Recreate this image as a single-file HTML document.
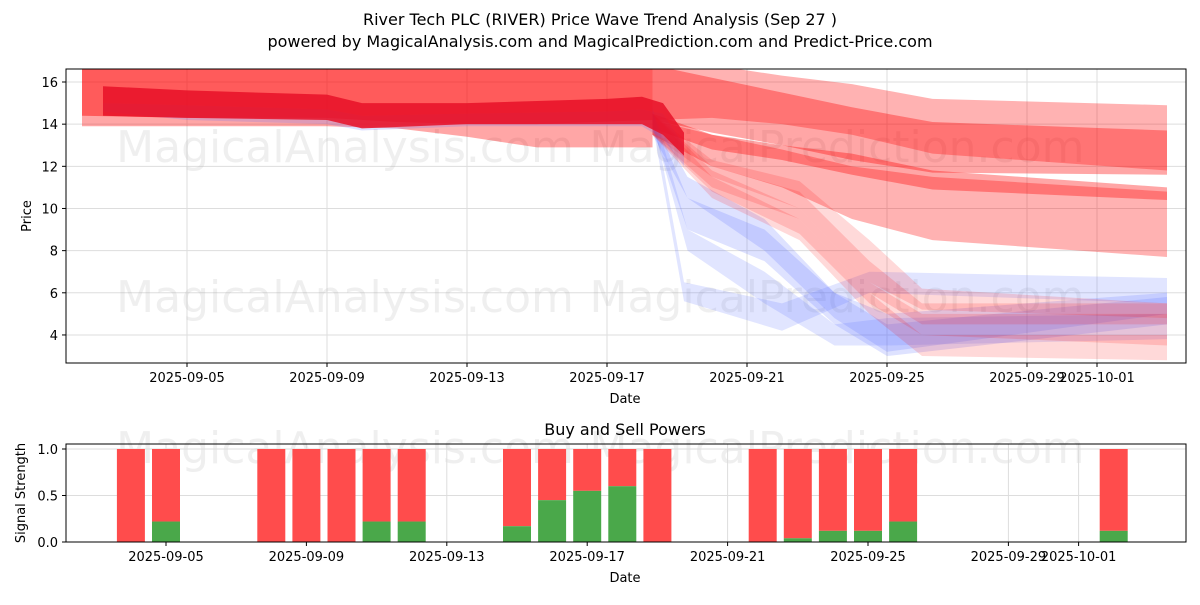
<!DOCTYPE html>
<html><head><meta charset="utf-8"><style>
body{margin:0;background:#fff;font-family:"Liberation Sans","DejaVu Sans",sans-serif}
svg text{font-family:"DejaVu Sans","Liberation Sans",sans-serif}
</style></head><body>
<svg id="c" width="1200" height="600" xmlns="http://www.w3.org/2000/svg">
<text x="600" y="25" text-anchor="middle" font-size="16">River Tech PLC (RIVER) Price Wave Trend Analysis (Sep 27 )</text>
<text x="600" y="47" text-anchor="middle" font-size="16">powered by MagicalAnalysis.com and MagicalPrediction.com and Predict-Price.com</text>
<g id="topg"></g><g id="botg"></g>
</svg>
<script>
// ---- top chart data (days since 2025-09-05) ----
const histDays=[-3,0,4,6,8,10,13.3];
const h1Hi=[16.8,16.8,16.8,16.8,16.8,16.8,16.8];
const h1Lo=[13.9,13.9,13.9,13.8,13.4,12.9,12.9];
const h2Hi=[16.8,16.8,16.8,16.8,16.8,16.8,16.8];
const h2Lo=[14.4,14.3,14.3,14.1,14.0,14.0,14.2];
const darkDays=[-2.4,0,4,5,8,12,13,13.6,14.2];
const darkHi=[15.8,15.6,15.4,15.0,15.0,15.2,15.3,15.0,13.6];
const darkLo=[14.4,14.3,14.2,13.8,14.0,14.0,14.0,13.5,12.5];
const blueHistHi=[15.0,14.9,14.7,14.4,14.5,14.6,14.7,14.5,13.0];
const blueHistLo=[14.6,14.2,14.0,13.7,13.9,13.9,13.9,13.3,12.0];
const fcDays=[13.3,15,17,19,21.3,28];
const f1Hi=[16.8,16.8,16.3,15.9,15.2,14.9], f1Lo=[14.2,14.3,14.0,13.5,12.6,11.8];
const f2Hi=[16.8,16.2,15.5,14.8,14.1,13.7], f2Lo=[14.2,13.6,13.0,12.3,11.7,11.6];
const f3Hi=[14.5,13.5,13.0,12.6,11.8,11.0], f3Lo=[13.8,12.8,12.3,11.6,10.9,10.4];
const f4Hi=[14.2,13.5,12.8,12.0,11.5,10.8], f4Lo=[13.5,12.0,11.0,9.5,8.5,7.7];
const rDays=[13.3,15,17.5,19.5,21,28];
const r1Hi=[14.5,12.0,10.8,7.5,5.5,5.5], r1Lo=[13.5,11.0,9.5,6.0,4.5,4.5];
const r2Hi=[14.5,11.8,10.0,6.5,5.0,5.0], r2Lo=[13.5,10.8,8.8,5.5,4.0,3.5];
const r3Hi=[14.5,12.3,11.3,8.5,6.2,5.5], r3Lo=[13.5,11.5,10.0,6.5,5.2,4.8];
const r4Hi=[14.5,11.5,9.5,6.0,4.0,4.0], r4Lo=[13.5,10.5,8.5,5.0,3.0,2.8];
const b1Days=[13.3,14.2,17,19.5,28], b1Hi=[14.8,6.5,5.5,7.0,6.7], b1Lo=[14.0,5.6,4.2,6.0,5.5];
const bDays=[13.3,14.3,16.5,18.5,20,28];
const b2Hi=[14.8,9.0,7.0,4.5,4.8,5.0], b2Lo=[14.0,8.0,5.5,3.5,3.5,3.8];
const b3Hi=[14.5,10.5,9.0,6.0,4.5,5.8], b3Lo=[13.8,9.0,7.5,4.5,3.0,4.5];
const b4Hi=[14.5,11.5,9.5,6.0,5.0,6.0], b4Lo=[13.5,10.5,8.0,4.8,3.2,5.0];
const yTicks=[4,6,8,10,12,14,16];
const xTickDays=[0,4,8,12,16,20,24,26];
const xTickLabels=["2025-09-05","2025-09-09","2025-09-13","2025-09-17","2025-09-21","2025-09-25","2025-09-29","2025-10-01"];
// ---- bottom chart data ----
const barDays=[-1,0,3,4,5,6,7,10,11,12,13,14,17,18,19,20,21,27];
const buyVals=[0,0.22,0,0,0,0.22,0.22,0.17,0.45,0.55,0.6,0,0,0.04,0.12,0.12,0.22,0.12];
const bYTicks=[0,0.5,1.0];

const NS="http://www.w3.org/2000/svg";
function mk(p,t,a){const e=document.createElementNS(NS,t);for(const k in a)e.setAttribute(k,a[k]);p.appendChild(e);return e;}
const L=66,R=1186,T=69,B=363;
const xT=d=>187+35*d, yT=v=>82+(16-v)*21.08;
const BT=444,BB=542;
const xB=d=>166+35.1*d, yB=v=>BB-v*93;
const topG=document.getElementById('topg'), botG=document.getElementById('botg');
const cp=mk(topG,'clipPath',{id:'cp'});
mk(cp,'rect',{x:L,y:T,width:R-L,height:B-T});
yTicks.forEach(v=>{const g=mk(topG,'line',{x1:L,x2:R,y1:yT(v),y2:yT(v),stroke:'#ddd','stroke-width':1});

const t=mk(topG,'text',{x:L-8,y:yT(v)+5,'text-anchor':'end','font-size':13});t.textContent=v;

mk(topG,'line',{x1:L-4,x2:L,y1:yT(v),y2:yT(v),stroke:'#000'});});
xTickDays.forEach((d,i)=>{const g=mk(topG,'line',{x1:xT(d),x2:xT(d),y1:T,y2:B,stroke:'#ddd'});

mk(topG,'line',{x1:xT(d),x2:xT(d),y1:B,y2:B+4,stroke:'#000'});
const t=mk(topG,'text',{x:xT(d),y:B+19,'text-anchor':'middle','font-size':13});t.textContent=xTickLabels[i];
});
[[345,162,'MagicalAnalysis.com'],[837,162,'MagicalPrediction.com'],[345,312,'MagicalAnalysis.com'],[837,312,'MagicalPrediction.com'],[345,463,'MagicalAnalysis.com'],[837,463,'MagicalPrediction.com']].forEach(w=>{
const t=mk(topG,'text',{x:w[0],y:w[1],'text-anchor':'middle','font-size':44,fill:'rgba(180,180,180,0.22)'});t.textContent=w[2];
});
const G=mk(topG,'g',{'clip-path':'url(#cp)'});
function band(days,hi,lo,fill,op,name){
 let p=days.map((d,i)=>xT(d)+','+yT(hi[i])).join(' ')+' '+days.map((d,i)=>xT(d)+','+yT(lo[i])).reverse().join(' ');
 const e=mk(G,'polygon',{points:p,fill:fill,'fill-opacity':op});
 
 }
const RED='#ff0000',BLUE='#5a6eff';
band(histDays,h1Hi,h1Lo,RED,0.35,'hist-band-light');
band(histDays,h2Hi,h2Lo,RED,0.45,'hist-band-mid');
band(fcDays,f4Hi,f4Lo,RED,0.3,'forecast-band-low');
band(fcDays,f1Hi,f1Lo,RED,0.3,'forecast-band-top');
band(fcDays,f2Hi,f2Lo,RED,0.35,'forecast-band-upper');
band(fcDays,f3Hi,f3Lo,RED,0.35,'forecast-band-mid');
band(b1Days,b1Hi,b1Lo,BLUE,0.18,'blue-wave-1');
band(bDays,b2Hi,b2Lo,BLUE,0.18,'blue-wave-2');
band(bDays,b3Hi,b3Lo,BLUE,0.2,'blue-wave-3');
band(bDays,b4Hi,b4Lo,BLUE,0.2,'blue-wave-4');
band(rDays,r1Hi,r1Lo,RED,0.15,'red-wave-1');
band(rDays,r2Hi,r2Lo,RED,0.15,'red-wave-2');
band(rDays,r3Hi,r3Lo,RED,0.15,'red-wave-3');
band(rDays,r4Hi,r4Lo,RED,0.15,'red-wave-4');
band(darkDays,blueHistHi,blueHistLo,BLUE,0.2,'hist-blue-band');
band(darkDays,darkHi,darkLo,'#e81028',0.85,'hist-band-dark');
mk(topG,'rect',{x:L,y:T,width:R-L,height:B-T,fill:'none',stroke:'#000'});
let t=mk(topG,'text',{x:625,y:403,'text-anchor':'middle','font-size':13});t.textContent='Date';

t=mk(topG,'text',{x:0,y:0,'text-anchor':'middle','font-size':13,transform:'translate(31,216) rotate(-90)'});t.textContent='Price';

bYTicks.forEach(v=>{const g=mk(botG,'line',{x1:L,x2:R,y1:yB(v),y2:yB(v),stroke:'#ddd'});

mk(botG,'line',{x1:L-4,x2:L,y1:yB(v),y2:yB(v),stroke:'#000'});
const tt=mk(botG,'text',{x:L-8,y:yB(v)+5,'text-anchor':'end','font-size':13});tt.textContent=v.toFixed(1);
});
xTickDays.forEach((d,i)=>{const g=mk(botG,'line',{x1:xB(d),x2:xB(d),y1:BT,y2:BB,stroke:'#ddd'});

mk(botG,'line',{x1:xB(d),x2:xB(d),y1:BB,y2:BB+4,stroke:'#000'});
const tt=mk(botG,'text',{x:xB(d),y:BB+19,'text-anchor':'middle','font-size':13});tt.textContent=xTickLabels[i];
});
barDays.forEach((d,i)=>{const x=xB(d)-14;
const s=mk(botG,'rect',{x:x,y:yB(1),width:28,height:yB(buyVals[i])-yB(1),fill:'#ff4c4c'});


const b=mk(botG,'rect',{x:x,y:yB(buyVals[i]),width:28,height:BB-yB(buyVals[i]),fill:'#4aa84a'});

});
mk(botG,'rect',{x:L,y:BT,width:R-L,height:BB-BT,fill:'none',stroke:'#000'});
t=mk(botG,'text',{x:625,y:435,'text-anchor':'middle','font-size':16});t.textContent='Buy and Sell Powers';

t=mk(botG,'text',{x:625,y:582,'text-anchor':'middle','font-size':13});t.textContent='Date';

t=mk(botG,'text',{x:0,y:0,'text-anchor':'middle','font-size':13,transform:'translate(25,493) rotate(-90)'});t.textContent='Signal Strength';

</script>
</body></html>
